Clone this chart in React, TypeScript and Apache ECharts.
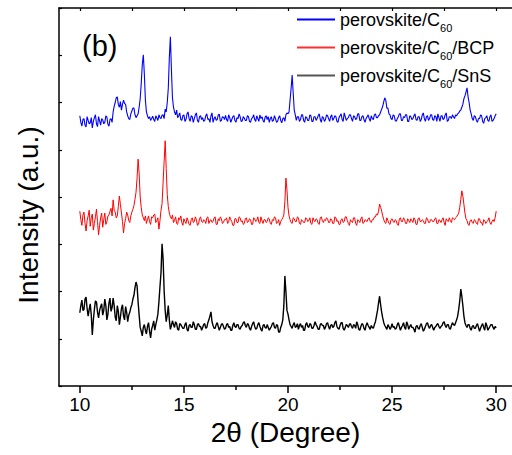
import React, { useEffect, useRef } from "react";
import * as echarts from "echarts";

// 2θ sampling of the scans (degrees)
const THETA_START = 10;
const THETA_STEP = 0.05;

const seriesNames = ["perovskite/C60", "perovskite/C60/BCP", "perovskite/C60/SnS"];
const seriesColors = ["#0000ff", "#ff0000", "#000000"];
const legendIconColors = ["#0000ff", "#ff3030", "#555555"];

const xMajorTicks = [10, 15, 20, 25, 30];
const xMinorTicks = [12.5, 17.5, 22.5, 27.5];
const xTopTicks = [10, 12.5, 15, 17.5, 20, 22.5, 25, 27.5, 30];

// perovskite/C60 (offset trace, top) — one row per degree, 10.00 … 30.00
const c60 = [
  5.72, 5.58, 5.50, 5.64, 5.66, 5.52, 5.48, 5.70, 5.62, 5.55, 5.57, 5.68, 5.46, 5.60, 5.68, 5.74, 5.55, 5.49, 5.70, 5.61,
  5.52, 5.66, 5.63, 5.55, 5.58, 5.72, 5.69, 5.54, 5.50, 5.64, 5.66, 5.58, 5.80, 5.92, 6.00, 6.10, 6.12, 5.96, 5.90, 6.02,
  5.84, 5.96, 6.05, 5.98, 5.96, 5.80, 5.72, 5.66, 5.64, 5.76, 5.82, 5.88, 5.88, 5.74, 5.68, 5.72, 5.76, 5.90, 6.08, 6.40,
  6.80, 7.01, 6.60, 6.05, 5.80, 5.72, 5.66, 5.70, 5.62, 5.66, 5.71, 5.64, 5.60, 5.72, 5.67, 5.62, 5.74, 5.68, 5.66, 5.73,
  5.74, 5.66, 5.86, 5.80, 6.00, 6.30, 6.95, 7.39, 6.70, 6.10, 5.90, 5.80, 5.74, 5.84, 5.68, 5.72, 5.78, 5.64, 5.62, 5.72,
  5.74, 5.60, 5.64, 5.76, 5.80, 5.66, 5.60, 5.72, 5.70, 5.58, 5.66, 5.74, 5.78, 5.62, 5.58, 5.70, 5.72, 5.64, 5.68, 5.60,
  5.62, 5.72, 5.76, 5.64, 5.66, 5.58, 5.72, 5.78, 5.58, 5.66, 5.70, 5.62, 5.64, 5.74, 5.75, 5.60, 5.62, 5.70, 5.69, 5.64,
  5.73, 5.64, 5.60, 5.74, 5.68, 5.58, 5.64, 5.70, 5.72, 5.62, 5.58, 5.68, 5.66, 5.76, 5.70, 5.60, 5.61, 5.70, 5.67, 5.62,
  5.62, 5.72, 5.70, 5.60, 5.58, 5.66, 5.68, 5.74, 5.64, 5.60, 5.72, 5.66, 5.60, 5.74, 5.66, 5.70, 5.62, 5.58, 5.69, 5.72,
  5.64, 5.70, 5.58, 5.66, 5.70, 5.60, 5.62, 5.72, 5.66, 5.58, 5.60, 5.68, 5.72, 5.62, 5.57, 5.66, 5.68, 5.60, 5.74, 5.78,
  5.76, 5.80, 6.05, 6.30, 6.58, 6.20, 5.84, 5.74, 5.62, 5.70, 5.70, 5.60, 5.64, 5.74, 5.74, 5.62, 5.58, 5.70, 5.68, 5.62,
  5.62, 5.74, 5.72, 5.60, 5.60, 5.70, 5.70, 5.62, 5.66, 5.72, 5.76, 5.64, 5.58, 5.70, 5.68, 5.60, 5.64, 5.74, 5.72, 5.66,
  5.60, 5.70, 5.74, 5.62, 5.66, 5.72, 5.70, 5.60, 5.58, 5.68, 5.72, 5.76, 5.64, 5.60, 5.78, 5.70, 5.62, 5.66, 5.68, 5.74,
  5.74, 5.66, 5.60, 5.72, 5.70, 5.64, 5.66, 5.76, 5.76, 5.62, 5.62, 5.70, 5.72, 5.64, 5.58, 5.66, 5.70, 5.74, 5.66, 5.60,
  5.72, 5.66, 5.64, 5.74, 5.76, 5.68, 5.68, 5.72, 5.74, 5.80, 5.86, 5.92, 6.02, 6.10, 6.04, 5.88, 5.88, 5.76, 5.74, 5.66,
  5.64, 5.74, 5.72, 5.62, 5.60, 5.66, 5.70, 5.76, 5.76, 5.62, 5.62, 5.70, 5.68, 5.74, 5.74, 5.60, 5.60, 5.72, 5.70, 5.64,
  5.66, 5.72, 5.76, 5.64, 5.62, 5.70, 5.70, 5.60, 5.64, 5.74, 5.78, 5.66, 5.60, 5.70, 5.72, 5.62, 5.66, 5.74, 5.74, 5.64,
  5.62, 5.72, 5.70, 5.60, 5.76, 5.68, 5.60, 5.72, 5.72, 5.64, 5.66, 5.74, 5.78, 5.60, 5.62, 5.70, 5.70, 5.66, 5.74, 5.70,
  5.66, 5.74, 5.72, 5.76, 5.78, 5.82, 5.84, 5.90, 5.96, 6.08, 6.14, 6.22, 6.31, 6.12, 6.00, 5.84, 5.76, 5.66, 5.62, 5.72,
  5.70, 5.62, 5.58, 5.66, 5.66, 5.74, 5.72, 5.60, 5.56, 5.66, 5.68, 5.72, 5.62, 5.60, 5.70, 5.74, 5.60, 5.62, 5.66, 5.72,
  5.76,
];

// perovskite/C60/BCP (offset trace, middle)
const c60Bcp = [
  3.70, 3.52, 3.40, 3.62, 3.68, 3.44, 3.28, 3.50, 3.60, 3.72, 3.38, 3.56, 3.64, 3.30, 3.44, 3.58, 3.74, 3.48, 3.20, 3.40,
  3.56, 3.66, 3.36, 3.52, 3.66, 3.42, 3.48, 3.60, 3.62, 3.70, 3.76, 3.60, 3.94, 3.72, 3.68, 3.56, 3.60, 3.80, 4.02, 3.84,
  3.66, 3.48, 3.24, 3.44, 3.54, 3.68, 3.62, 3.50, 3.46, 3.60, 3.68, 3.74, 3.82, 3.95, 4.10, 4.40, 4.80, 4.50, 4.00, 3.78,
  3.62, 3.56, 3.50, 3.60, 3.44, 3.52, 3.60, 3.48, 3.42, 3.58, 3.56, 3.62, 3.64, 3.46, 3.50, 3.56, 3.32, 3.50, 3.72, 3.86,
  4.30, 4.75, 5.19, 4.60, 4.05, 3.80, 3.66, 3.58, 3.54, 3.62, 3.46, 3.50, 3.58, 3.44, 3.42, 3.56, 3.52, 3.60, 3.46, 3.40,
  3.54, 3.48, 3.44, 3.56, 3.50, 3.42, 3.40, 3.52, 3.56, 3.46, 3.48, 3.58, 3.52, 3.40, 3.42, 3.54, 3.58, 3.48, 3.46, 3.52,
  3.50, 3.44, 3.56, 3.58, 3.44, 3.50, 3.52, 3.46, 3.48, 3.56, 3.58, 3.42, 3.42, 3.54, 3.50, 3.58, 3.54, 3.44, 3.46, 3.52,
  3.52, 3.56, 3.44, 3.48, 3.58, 3.52, 3.48, 3.40, 3.40, 3.54, 3.54, 3.46, 3.46, 3.58, 3.56, 3.48, 3.50, 3.42, 3.44, 3.54,
  3.56, 3.46, 3.48, 3.54, 3.52, 3.42, 3.42, 3.56, 3.54, 3.48, 3.50, 3.58, 3.46, 3.44, 3.58, 3.50, 3.44, 3.52, 3.52, 3.46,
  3.48, 3.56, 3.54, 3.44, 3.42, 3.52, 3.50, 3.58, 3.56, 3.44, 3.46, 3.52, 3.40, 3.48, 3.52, 3.56, 3.62, 3.90, 4.40, 4.15,
  3.78, 3.60, 3.52, 3.46, 3.44, 3.56, 3.54, 3.48, 3.48, 3.58, 3.56, 3.44, 3.42, 3.52, 3.50, 3.46, 3.46, 3.56, 3.54, 3.48,
  3.50, 3.56, 3.44, 3.42, 3.56, 3.50, 3.48, 3.54, 3.52, 3.44, 3.42, 3.56, 3.58, 3.50, 3.46, 3.52, 3.50, 3.56, 3.54, 3.46,
  3.46, 3.54, 3.52, 3.44, 3.44, 3.58, 3.56, 3.48, 3.50, 3.42, 3.42, 3.52, 3.54, 3.46, 3.48, 3.58, 3.58, 3.50, 3.44, 3.40,
  3.52, 3.48, 3.46, 3.56, 3.56, 3.44, 3.40, 3.52, 3.50, 3.46, 3.54, 3.58, 3.44, 3.46, 3.52, 3.50, 3.48, 3.54, 3.56, 3.48,
  3.46, 3.52, 3.52, 3.58, 3.58, 3.64, 3.62, 3.70, 3.85, 3.78, 3.70, 3.60, 3.52, 3.46, 3.44, 3.56, 3.50, 3.44, 3.42, 3.52,
  3.54, 3.48, 3.46, 3.52, 3.50, 3.42, 3.40, 3.54, 3.56, 3.48, 3.48, 3.56, 3.52, 3.44, 3.44, 3.54, 3.50, 3.46, 3.54, 3.50,
  3.46, 3.56, 3.52, 3.42, 3.42, 3.54, 3.56, 3.48, 3.48, 3.52, 3.50, 3.44, 3.44, 3.56, 3.54, 3.46, 3.46, 3.52, 3.52, 3.48,
  3.48, 3.54, 3.56, 3.44, 3.44, 3.52, 3.50, 3.46, 3.52, 3.56, 3.46, 3.40, 3.54, 3.50, 3.48, 3.56, 3.50, 3.46, 3.56, 3.54,
  3.52, 3.56, 3.58, 3.62, 3.66, 3.78, 3.95, 4.13, 4.02, 3.84, 3.66, 3.54, 3.50, 3.42, 3.40, 3.50, 3.52, 3.46, 3.44, 3.52,
  3.50, 3.44, 3.42, 3.54, 3.54, 3.46, 3.46, 3.40, 3.52, 3.50, 3.44, 3.48, 3.50, 3.56, 3.46, 3.42, 3.48, 3.52, 3.48, 3.56,
  3.70,
];

// perovskite/C60/SnS (offset trace, bottom)
const c60Sns = [
  1.55, 1.70, 1.82, 1.60, 1.62, 1.84, 1.88, 1.64, 1.48, 1.62, 1.74, 1.50, 1.08, 1.40, 1.62, 1.80, 1.78, 1.56, 1.44, 1.60,
  1.68, 1.74, 1.50, 1.60, 1.84, 1.70, 1.40, 1.52, 1.76, 1.86, 1.58, 1.66, 1.86, 1.70, 1.46, 1.38, 1.70, 1.58, 1.30, 1.46,
  1.64, 1.72, 1.48, 1.40, 1.68, 1.56, 1.36, 1.50, 1.56, 1.66, 1.72, 1.84, 1.92, 2.08, 2.20, 2.12, 1.78, 1.50, 1.24, 1.16,
  1.06, 1.24, 1.30, 1.18, 1.10, 1.26, 1.34, 1.16, 1.02, 1.20, 1.28, 1.38, 1.18, 1.30, 1.40, 1.52, 1.78, 2.10, 2.40, 3.01,
  2.70, 2.02, 1.60, 1.36, 1.50, 1.70, 1.40, 1.20, 1.28, 1.38, 1.30, 1.24, 1.36, 1.32, 1.20, 1.18, 1.32, 1.30, 1.26, 1.22,
  1.22, 1.30, 1.34, 1.20, 1.16, 1.28, 1.30, 1.24, 1.24, 1.36, 1.30, 1.20, 1.20, 1.30, 1.32, 1.26, 1.26, 1.18, 1.24, 1.30,
  1.32, 1.22, 1.24, 1.34, 1.40, 1.48, 1.57, 1.36, 1.28, 1.22, 1.22, 1.30, 1.34, 1.26, 1.18, 1.24, 1.30, 1.32, 1.26, 1.20,
  1.22, 1.30, 1.32, 1.24, 1.26, 1.18, 1.18, 1.28, 1.34, 1.26, 1.24, 1.30, 1.30, 1.22, 1.20, 1.26, 1.28, 1.34, 1.36, 1.28,
  1.24, 1.32, 1.30, 1.22, 1.18, 1.26, 1.32, 1.36, 1.26, 1.20, 1.22, 1.30, 1.34, 1.26, 1.20, 1.16, 1.28, 1.30, 1.24, 1.22,
  1.30, 1.24, 1.18, 1.22, 1.26, 1.32, 1.34, 1.24, 1.22, 1.30, 1.28, 1.14, 1.14, 1.24, 1.30, 1.40, 1.70, 2.33, 2.00, 1.60,
  1.52, 1.40, 1.30, 1.26, 1.22, 1.30, 1.34, 1.24, 1.26, 1.32, 1.20, 1.28, 1.32, 1.24, 1.28, 1.18, 1.18, 1.30, 1.34, 1.26,
  1.24, 1.32, 1.30, 1.22, 1.22, 1.28, 1.36, 1.30, 1.26, 1.20, 1.20, 1.30, 1.32, 1.28, 1.28, 1.20, 1.24, 1.32, 1.34, 1.26,
  1.20, 1.28, 1.30, 1.24, 1.26, 1.34, 1.38, 1.26, 1.22, 1.20, 1.28, 1.34, 1.34, 1.22, 1.18, 1.24, 1.30, 1.28, 1.24, 1.30,
  1.32, 1.26, 1.22, 1.30, 1.28, 1.22, 1.36, 1.30, 1.20, 1.18, 1.26, 1.32, 1.30, 1.22, 1.18, 1.28, 1.34, 1.28, 1.24, 1.20,
  1.28, 1.24, 1.22, 1.30, 1.36, 1.48, 1.60, 1.76, 1.90, 1.72, 1.56, 1.44, 1.34, 1.28, 1.24, 1.20, 1.30, 1.26, 1.20, 1.24,
  1.32, 1.24, 1.26, 1.20, 1.22, 1.30, 1.34, 1.26, 1.18, 1.24, 1.28, 1.34, 1.24, 1.20, 1.36, 1.30, 1.20, 1.26, 1.30, 1.24,
  1.24, 1.20, 1.14, 1.26, 1.28, 1.22, 1.20, 1.28, 1.32, 1.24, 1.16, 1.20, 1.26, 1.32, 1.34, 1.26, 1.22, 1.28, 1.30, 1.24,
  1.18, 1.24, 1.26, 1.30, 1.32, 1.26, 1.22, 1.26, 1.28, 1.34, 1.36, 1.28, 1.24, 1.30, 1.30, 1.22, 1.20, 1.28, 1.34, 1.30,
  1.28, 1.34, 1.40, 1.48, 1.62, 1.80, 2.05, 1.90, 1.70, 1.48, 1.34, 1.28, 1.24, 1.30, 1.30, 1.22, 1.18, 1.26, 1.28, 1.22,
  1.22, 1.28, 1.32, 1.24, 1.16, 1.22, 1.28, 1.32, 1.24, 1.18, 1.34, 1.28, 1.18, 1.22, 1.26, 1.30, 1.30, 1.24, 1.20, 1.26,
  1.23,
];

const traces = [c60, c60Bcp, c60Sns];
const lineWidths = [1.1, 1, 1.4];

const FONT = "'Liberation Sans', Arial, Helvetica, sans-serif";

function toPairs(vals: number[]) {
  return vals.map((v, i) => [Number((THETA_START + i * THETA_STEP).toFixed(2)), v]);
}

export default function App() {
  const ref = useRef<HTMLDivElement>(null);

  useEffect(() => {
    if (!ref.current) return;
    const chart = echarts.init(ref.current, null, { renderer: "svg" });
    const axisLine = { show: true, lineStyle: { color: "#000", width: 1.5 } };

    const option: any = {
      animation: false,
      backgroundColor: "#fff",
      textStyle: { fontFamily: FONT },
      grid: { left: 59, right: 0, top: 8, bottom: 69, containLabel: false },
      legend: {
        orient: "vertical",
        left: 297,
        top: 6,
        padding: 0,
        itemGap: 1,
        itemWidth: 38,
        itemHeight: 2,
        icon: "rect",
        selectedMode: false,
        data: seriesNames.map((n, i) => ({ name: n, itemStyle: { color: legendIconColors[i] } })),
        formatter: (name: string) => {
          const idx = name.indexOf("C60");
          const pre = name.slice(0, idx + 1);
          const post = name.slice(idx + 3);
          return `{a|${pre}}{sub|60}` + (post ? `{a|${post}}` : "");
        },
        textStyle: {
          color: "#000",
          fontFamily: FONT,
          fontSize: 18,
          rich: {
            a: { fontSize: 18, lineHeight: 26, color: "#000", fontFamily: FONT },
            sub: { fontSize: 11, lineHeight: 26, color: "#000", fontFamily: FONT, padding: [16, 0, 0, 0] },
          },
        },
      },
      xAxis: [
        {
          type: "value",
          position: "bottom",
          min: 9,
          max: 30.76,
          axisLine,
          splitLine: { show: false },
          axisTick: { show: true, inside: false, length: 7, customValues: xMajorTicks, lineStyle: { color: "#000", width: 1.5 } },
          axisLabel: { show: true, customValues: xMajorTicks, fontSize: 19, color: "#000", margin: 9, fontFamily: FONT },
          name: "2θ (Degree)",
          nameLocation: "middle",
          nameGap: 30,
          nameTextStyle: { fontSize: 28, color: "#000", fontFamily: FONT },
        },
        {
          type: "value",
          position: "bottom",
          min: 9,
          max: 30.76,
          axisLine: { show: false },
          splitLine: { show: false },
          axisTick: { show: true, inside: false, length: 4, customValues: xMinorTicks, lineStyle: { color: "#000", width: 1.5 } },
          axisLabel: { show: false },
        },
        {
          type: "value",
          position: "top",
          min: 9,
          max: 30.76,
          axisLine,
          splitLine: { show: false },
          axisTick: { show: true, inside: true, length: 3, customValues: xTopTicks, lineStyle: { color: "#000", width: 1.2 } },
          axisLabel: { show: false },
        },
      ],
      yAxis: {
        type: "value",
        min: 0,
        max: 8,
        interval: 1,
        axisLine,
        splitLine: { show: false },
        axisTick: { show: true, inside: true, length: 3, lineStyle: { color: "#000", width: 1.2 } },
        axisLabel: { show: false },
      },
      graphic: [
        {
          type: "text",
          x: 82,
          y: 46,
          style: { text: "(b)", fontSize: 29, fill: "#000", fontFamily: FONT, textAlign: "left", textVerticalAlign: "middle" },
        },
        {
          type: "text",
          x: 28,
          y: 215,
          rotation: Math.PI / 2,
          style: {
            text: "Intensity (a.u.)",
            fontSize: 28,
            fill: "#000",
            fontFamily: FONT,
            textAlign: "center",
            textVerticalAlign: "middle",
          },
        },
      ],
      series: traces.map((vals, i) => ({
        name: seriesNames[i],
        type: "line",
        xAxisIndex: 0,
        yAxisIndex: 0,
        showSymbol: false,
        symbol: "none",
        data: toPairs(vals),
        lineStyle: { color: seriesColors[i], width: lineWidths[i] },
        itemStyle: { color: seriesColors[i] },
        z: 3 - i,
      })),
    };

    chart.setOption(option);
    return () => chart.dispose();
  }, []);

  return (
    <div
      ref={ref}
      style={{ position: "absolute", left: 0, top: 0, width: 512, height: 455 }}
    />
  );
}
